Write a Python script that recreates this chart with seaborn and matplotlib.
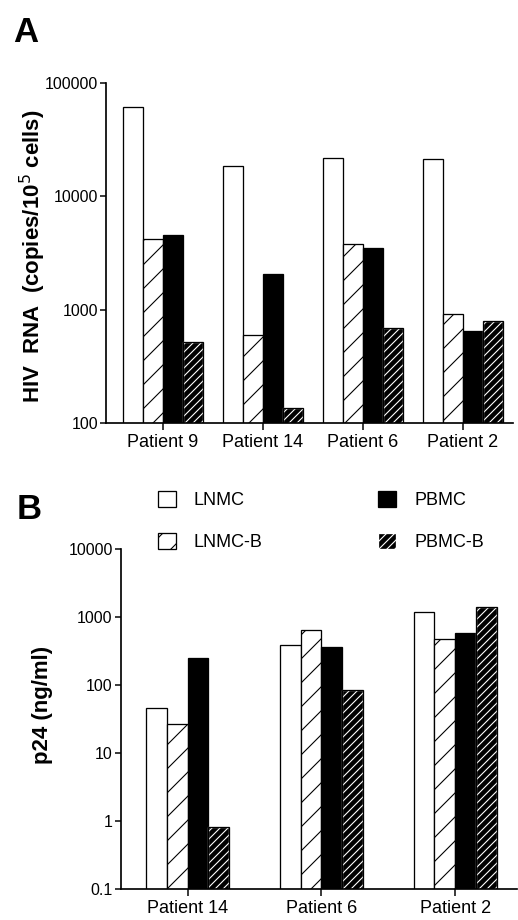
import numpy as np
import pandas as pd
import seaborn as sns
import matplotlib.pyplot as plt
from matplotlib.patches import Rectangle
from matplotlib.ticker import FixedLocator, NullLocator, FixedFormatter

cell_types = ['LNMC', 'LNMC-B', 'PBMC', 'PBMC-B']

# panel A - HIV RNA (copies / 10^5 cells)
patients_a = ['Patient 9', 'Patient 14', 'Patient 6', 'Patient 2']
lnmc_a = [62000, 18600, 21600, 21200]
lnmcb_a = [4200, 605, 3770, 920]
pbmc_a = [4600, 2050, 3480, 650]
pbmcb_a = [515, 137, 685, 795]

# panel B - p24 (ng/ml)
patients_b = ['Patient 14', 'Patient 6', 'Patient 2']
lnmc_b = [46, 387, 1185]
lnmcb_b = [27, 644, 486]
pbmc_b = [255, 366, 588]
pbmcb_b = [0.82, 86, 1436]

ticks_a = [100, 1000, 10000, 100000]
ticks_b = [0.1, 1, 10, 100, 1000, 10000]
ticklabels_b = ['0.1', '1', '10', '100', '1000', '10000']


def to_long(patients, series):
    rows = []
    for name, vals in zip(cell_types, series):
        for p, v in zip(patients, vals):
            rows.append({'patient': p, 'cell': name, 'value': v})
    return pd.DataFrame(rows)


df_a = to_long(patients_a, [lnmc_a, lnmcb_a, pbmc_a, pbmcb_a])
df_b = to_long(patients_b, [lnmc_b, lnmcb_b, pbmc_b, pbmcb_b])

# drawn at 72 dpi so the hatch spacing comes out like the printed figure;
# point sizes are scaled by k to look like 100 dpi sizes
DPI = 72
k = 100 / DPI

sns.set_style('ticks')
plt.rcParams['font.family'] = ['Liberation Sans', 'DejaVu Sans']
plt.rcParams['hatch.linewidth'] = 1.1
for key in ['text.color', 'axes.labelcolor', 'xtick.color', 'ytick.color', 'axes.edgecolor']:
    plt.rcParams[key] = 'black'

faces = ['white', 'white', 'black', 'black']
hatches = ['', '/', '', '///']
hatch_cols = ['black', 'black', 'black', 'white']


def style_bars(ax):
    for cont, fc, h, hc in zip(ax.containers, faces, hatches, hatch_cols):
        for p in cont:
            p.set_facecolor(fc)
            p.set_hatch(h)
            p.set_linewidth(1.3)
            if hasattr(p, 'set_hatchcolor'):
                p.set_edgecolor('black')
                p.set_hatchcolor(hc)
            else:
                p.set_edgecolor(hc)
                if hc != 'black':
                    ax.add_patch(Rectangle(p.get_xy(), p.get_width(), p.get_height(),
                                           fill=False, edgecolor='black', lw=1.3, zorder=p.get_zorder() + 0.1))


def style_axes(ax, ticks, labels, ylim, xlim):
    ax.set_yscale('log')
    ax.set_ylim(*ylim)
    ax.set_xlim(*xlim)
    ax.yaxis.set_major_locator(FixedLocator(ticks))
    ax.yaxis.set_major_formatter(FixedFormatter(labels))
    ax.yaxis.set_minor_locator(NullLocator())
    sns.despine(ax=ax)
    for s in ['left', 'bottom']:
        ax.spines[s].set_linewidth(1.7)
    ax.tick_params(axis='y', labelsize=11.5 * k, length=6, width=1.5, pad=2)
    ax.tick_params(axis='x', labelsize=13 * k, length=7, width=1.5, pad=4)
    ax.set_xlabel('')


fig = plt.figure(figsize=(518 / DPI, 920 / DPI), dpi=DPI)

ax_a = fig.add_axes([0.2046, 0.540, 0.7854, 0.3698])
sns.barplot(data=df_a, x='patient', y='value', hue='cell', order=patients_a,
            hue_order=cell_types, width=0.8, ax=ax_a, legend=False, errorbar=None)
style_bars(ax_a)
style_axes(ax_a, ticks_a, [str(t) for t in ticks_a], (100, 100000), (-0.57, 3.5))
ax_a.set_ylabel('HIV  RNA  (copies/10$^{5}$ cells)', fontsize=16 * k, fontweight='bold')
ax_a.yaxis.set_label_coords(-0.143, 0.49)

ax_b = fig.add_axes([0.233, 0.0334, 0.7645, 0.3696])
sns.barplot(data=df_b, x='patient', y='value', hue='cell', order=patients_b,
            hue_order=cell_types, width=0.62, ax=ax_b, legend=False, errorbar=None)
style_bars(ax_b)
style_axes(ax_b, ticks_b, ticklabels_b, (0.1, 10000), (-0.5, 2.46))
ax_b.set_ylabel('p24 (ng/ml)', fontsize=16 * k, fontweight='bold')
ax_b.yaxis.set_label_coords(-0.172, 0.542)

handles = [cont[0] for cont in ax_b.containers[:4]]
fig.legend(handles, cell_types, loc='upper left', bbox_to_anchor=(0.287, 0.476),
           ncol=2, frameon=False, fontsize=13 * k, handlelength=1.0, handleheight=1.0,
           handletextpad=1.0, labelspacing=1.3, columnspacing=6.4, borderpad=0)

fig.text(0.025, 0.983, 'A', fontsize=25 * k, fontweight='bold', va='top', ha='left')
fig.text(0.032, 0.464, 'B', fontsize=25 * k, fontweight='bold', va='top', ha='left')

fig.savefig('out.png', dpi=DPI, facecolor='white')
